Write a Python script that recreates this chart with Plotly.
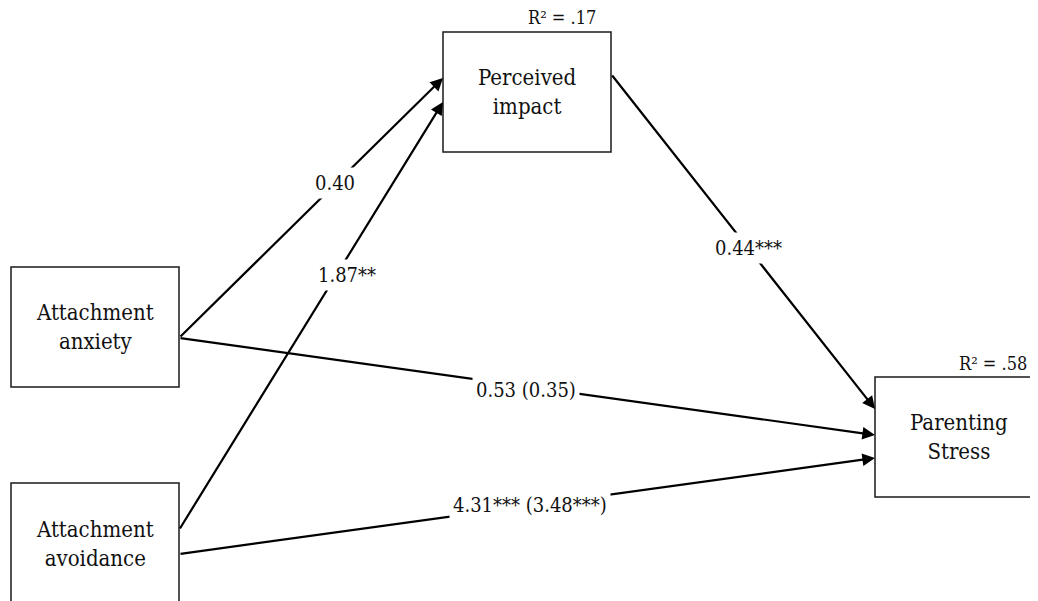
import plotly.graph_objects as go

# ---- chart content ----
node_names = ["Attachment<br>anxiety", "Attachment<br>avoidance", "Perceived<br>impact", "Parenting<br>Stress"]
r2_labels = ["R² = .17", "R² = .58"]
path_labels = ["0.40", "1.87**", "0.44***", "0.53 (0.35)", "4.31*** (3.48***)"]

# ---- layout (pixel-space positions of the 1038x601 page) ----
W, H = 1038, 601
M = 8  # browser body margin
boxes = [  # x0, y0, x1, y1
    (11, 267, 179, 387),
    (11, 483, 179, 606),
    (443, 32, 611, 152),
    (875, 377, 1043, 497),
]
r2_pos = [(562, 17), (993, 363)]
# (tail_x, tail_y, head_x, head_y)
arrows = [
    (179, 338, 443, 78),
    (179, 530, 443, 102),
    (611, 74, 875, 409),
    (179, 338, 875, 435),
    (179, 554, 875, 458),
]
label_pos = [(335, 183), (347, 275), (748, 248), (526, 390), (530, 505)]

FONT = "DejaVu Serif Condensed, DejaVu Serif"
fig = go.Figure()
fig.add_trace(go.Scatter(x=[M, W], y=[M, H], mode="markers", marker=dict(opacity=0),
                         hoverinfo="skip", showlegend=False))

shapes = []
for (x0, y0, x1, y1) in boxes:
    shapes.append(dict(type="rect", xref="x", yref="y", x0=x0, y0=y0, x1=x1, y1=y1,
                       line=dict(color="#1a1a1a", width=1.5), fillcolor="rgba(0,0,0,0)"))

annotations = []
for (tx, ty, hx, hy) in arrows:
    annotations.append(dict(x=hx, y=hy, ax=tx, ay=ty, xref="x", yref="y", axref="x", ayref="y",
                            text="", showarrow=True, arrowhead=2, arrowsize=1.15, arrowwidth=2.2,
                            arrowcolor="black", standoff=0, startstandoff=0))
for name, (x0, y0, x1, y1) in zip(node_names, boxes):
    cy = (y0 + y1) / 2 if y1 < H else 544
    annotations.append(dict(x=(x0 + x1) / 2, y=cy, xref="x", yref="y", text=name, showarrow=False,
                            font=dict(family=FONT, size=22, color="#111")))
for txt, (x, y) in zip(r2_labels, r2_pos):
    annotations.append(dict(x=x, y=y, xref="x", yref="y", text=txt, showarrow=False,
                            font=dict(family=FONT, size=18, color="#111")))
for txt, (x, y) in zip(path_labels, label_pos):
    annotations.append(dict(x=x, y=y, xref="x", yref="y", text=txt, showarrow=False,
                            bgcolor="white", borderpad=3,
                            font=dict(family=FONT, size=20, color="#111")))

fig.update_layout(
    width=W - M, height=H - M, margin=dict(l=0, r=0, t=0, b=0),
    plot_bgcolor="white", paper_bgcolor="white",
    xaxis=dict(range=[M, W], visible=False, fixedrange=True),
    yaxis=dict(range=[H, M], visible=False, fixedrange=True),
    shapes=shapes, annotations=annotations, showlegend=False,
)
fig.write_html("out.html")
